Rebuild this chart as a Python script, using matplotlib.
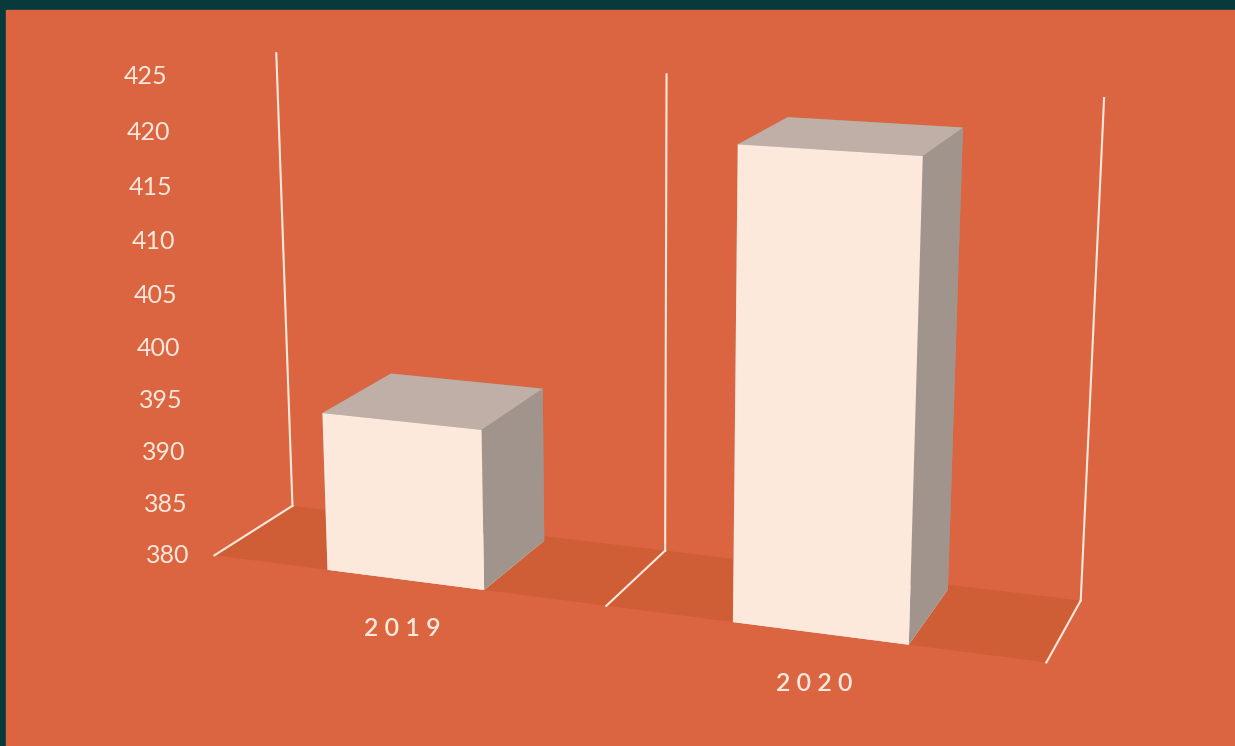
import matplotlib
matplotlib.use('Agg')
from matplotlib import pyplot as plt
from matplotlib.patches import Rectangle
from mpl_toolkits.mplot3d.art3d import Poly3DCollection

categories = ['2019', '2020']
values = [395, 422]
ticks = [380, 385, 390, 395, 400, 405, 410, 415, 420, 425]

bg_dark = '#083a3d'
bg = '#dc6541'
floor_col = '#cf5e36'
light = '#fde8dc'
top_col = '#bfafa6'
side_col = '#a1948d'

plt.rcParams['font.family'] = ['Lato', 'DejaVu Sans']

W, H = 1235, 746
fig = plt.figure(figsize=(W / 100, H / 100), dpi=100)
fig.patch.set_facecolor(bg_dark)
fig.add_artist(Rectangle((6 / W, 0), 1 - 6 / W, 1 - 10 / H,
                         transform=fig.transFigure, color=bg, zorder=0))

# 3d axes are always square, so make the square as wide as the figure
cy = 391
ax = fig.add_axes([0.002, (cy - W / 2) / H, 1, W / H], projection='3d')
ax.set_facecolor((0, 0, 0, 0))
ax.set_proj_type('persp', focal_length=0.38)
ax.set_axis_off()
ax.computed_zorder = False
ax.view_init(elev=14.5, azim=-70)
ax.set_box_aspect((2, 0.40, 1.15), zoom=0.81)

n = len(categories)
zmin, zmax = ticks[0], ticks[-1]
ax.set_xlim(0, n)
ax.set_ylim(0, 1)
ax.set_zlim(zmin, zmax)

# floor
floor = Poly3DCollection([[(0, 0, zmin), (n, 0, zmin), (n, 1, zmin), (0, 1, zmin)]],
                         facecolor=floor_col, edgecolor='none', zorder=1)
ax.add_collection3d(floor)

# divider lines on back wall and floor
for i in range(n + 1):
    ax.plot([i, i], [1, 1], [zmin, zmax], color=light, lw=1.5, zorder=2)
    ax.plot([i, i], [1, 0], [zmin, zmin], color=light, lw=1.5, zorder=2)

# bars: faces order -z, +z, -y, +y, -x, +x
face_cols = [light, top_col, light, side_col, side_col, side_col]
for i, v in enumerate(values):
    ax.bar3d(i + 0.3, 0.0, zmin, 0.4, 0.92, v - zmin,
             color=face_cols, shade=False, zorder=3 + i)

for t in ticks:
    ax.text(-0.055, -0.05, t, str(t), color=light, fontsize=18,
            ha='right', va='center', zorder=5)

for i, c in enumerate(categories):
    ax.text(i + 0.49, 0, zmin - 3.6, ' '.join(c), color=light, fontsize=18,
            fontweight='semibold', ha='center', va='top', zorder=5)

fig.savefig('out.png', dpi=100, facecolor=fig.get_facecolor())
